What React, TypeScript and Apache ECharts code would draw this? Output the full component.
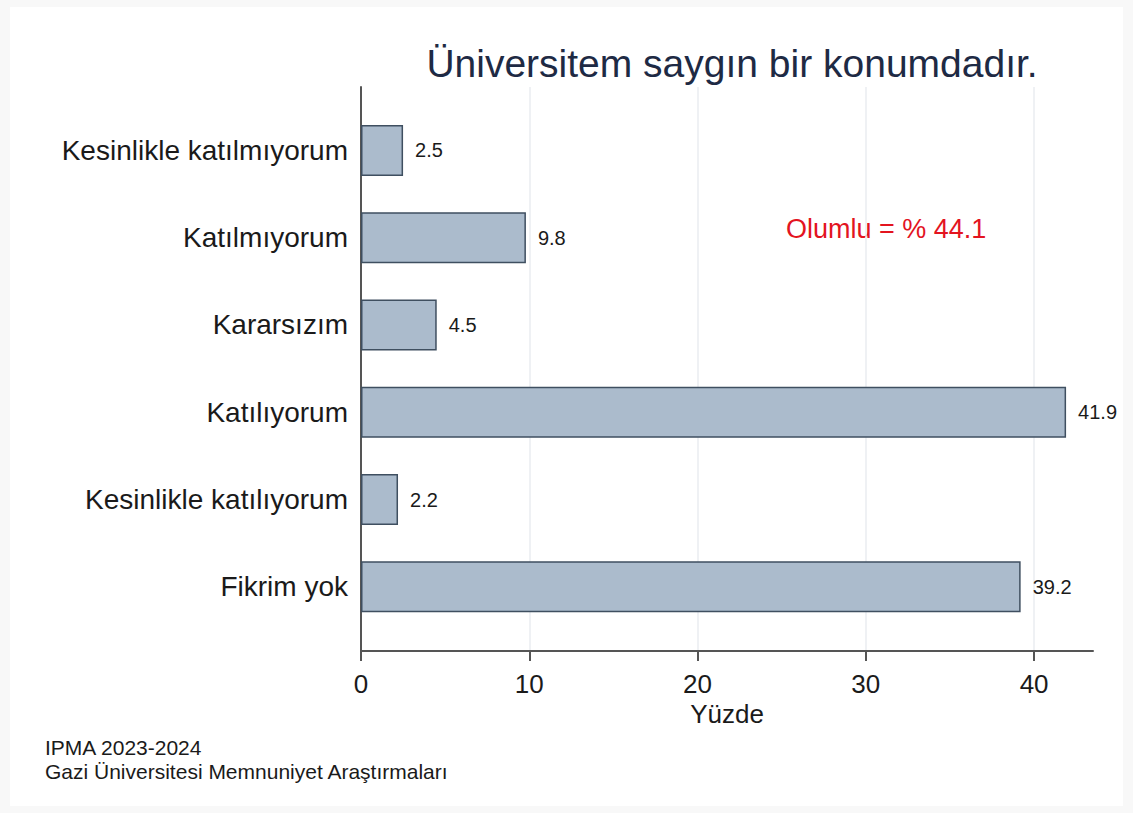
import React, { useEffect, useRef } from "react";
import * as echarts from "echarts";

const categories = [
  "Kesinlikle katılmıyorum",
  "Katılmıyorum",
  "Kararsızım",
  "Katılıyorum",
  "Kesinlikle katılıyorum",
  "Fikrim yok",
];
const values = [2.5, 9.8, 4.5, 41.9, 2.2, 39.2];
const titleText = "Üniversitem saygın bir konumdadır.";
const axisName = "Yüzde";
const noteText = "Olumlu = % 44.1";
const footLines = ["IPMA 2023-2024", "Gazi Üniversitesi Memnuniyet Araştırmaları"];

const FONT = "'Liberation Sans', Arial, sans-serif";

export default function App() {
  const ref = useRef<HTMLDivElement>(null);
  useEffect(() => {
    if (!ref.current) return;
    const chart = echarts.init(ref.current, null, { renderer: "svg" });
    const plotLeft = 361;
    const plotWidth = 732;
    const xMax = 43.5;
    const tickMax = 40;
    const tickWidth = (plotWidth * tickMax) / xMax;
    const axisColor = "#555";
    chart.setOption({
      animation: false,
      backgroundColor: "#f8f8f8",
      textStyle: { fontFamily: FONT },
      title: {
        text: titleText,
        left: plotLeft + plotWidth / 2,
        textAlign: "center",
        top: 39,
        textStyle: { fontFamily: FONT, fontSize: 39, fontWeight: "normal", color: "#1e2a44" },
      },
      graphic: [
        {
          type: "rect",
          z: -10,
          silent: true,
          shape: { x: 10, y: 7, width: 1113, height: 799 },
          style: { fill: "#ffffff" },
        },
        {
          type: "text",
          x: 786,
          y: 229,
          style: {
            text: noteText,
            fontFamily: FONT,
            fontSize: 27,
            fill: "#e3141f",
            textVerticalAlign: "middle",
          },
        },
        {
          type: "text",
          x: 45,
          y: 747,
          style: { text: footLines[0], fontFamily: FONT, fontSize: 21, fill: "#1a1a1a", textVerticalAlign: "middle" },
        },
        {
          type: "text",
          x: 45,
          y: 771,
          style: { text: footLines[1], fontFamily: FONT, fontSize: 21, fill: "#1a1a1a", textVerticalAlign: "middle" },
        },
      ],
      grid: [
        { left: plotLeft, width: plotWidth, top: 106.85, height: 523.55, containLabel: false },
        { left: plotLeft, width: plotWidth, top: 87, height: 564, containLabel: false },
        { left: plotLeft, width: tickWidth, top: 87, height: 564, containLabel: false },
      ],
      xAxis: [
        { type: "value", gridIndex: 0, min: 0, max: xMax, show: false },
        {
          type: "value",
          gridIndex: 1,
          min: 0,
          max: xMax,
          name: axisName,
          nameLocation: "middle",
          nameGap: 50,
          nameTextStyle: { fontFamily: FONT, fontSize: 26, color: "#1a1a1a" },
          axisLine: { show: true, lineStyle: { color: axisColor, width: 2 } },
          axisTick: { show: false },
          axisLabel: { show: false },
          splitLine: { show: false },
        },
        {
          type: "value",
          gridIndex: 2,
          min: 0,
          max: tickMax,
          interval: 10,
          axisLine: { show: false },
          axisTick: { show: true, length: 10, lineStyle: { color: axisColor, width: 2 } },
          axisLabel: { fontFamily: FONT, fontSize: 26, color: "#1a1a1a", margin: 20 },
          splitLine: { show: true, lineStyle: { color: "#eaedf0", width: 1.5 } },
        },
      ],
      yAxis: [
        {
          type: "category",
          gridIndex: 0,
          data: categories,
          inverse: true,
          axisLine: { show: false },
          axisTick: { show: false },
          axisLabel: { fontFamily: FONT, fontSize: 28, color: "#1a1a1a", margin: 13 },
        },
        {
          type: "value",
          gridIndex: 1,
          min: 0,
          max: 1,
          axisLine: { show: true, lineStyle: { color: axisColor, width: 2 } },
          axisTick: { show: false },
          axisLabel: { show: false },
          splitLine: { show: false },
        },
        {
          type: "value",
          gridIndex: 2,
          min: 0,
          max: 1,
          show: false,
        },
      ],
      series: [
        {
          type: "bar",
          xAxisIndex: 0,
          yAxisIndex: 0,
          z: 3,
          data: values,
          barWidth: 51,
          itemStyle: { color: "#abbbcc", borderColor: "#3f4f60", borderWidth: 1.5 },
          label: {
            show: true,
            position: "right",
            distance: 12,
            fontFamily: FONT,
            fontSize: 20,
            color: "#1a1a1a",
            formatter: (p: any) => Number(p.value).toFixed(1),
          },
        },
      ],
    });
    return () => chart.dispose();
  }, []);
  return (
    <div
      ref={ref}
      style={{ position: "absolute", left: 0, top: 0, width: 1133, height: 813 }}
    />
  );
}
